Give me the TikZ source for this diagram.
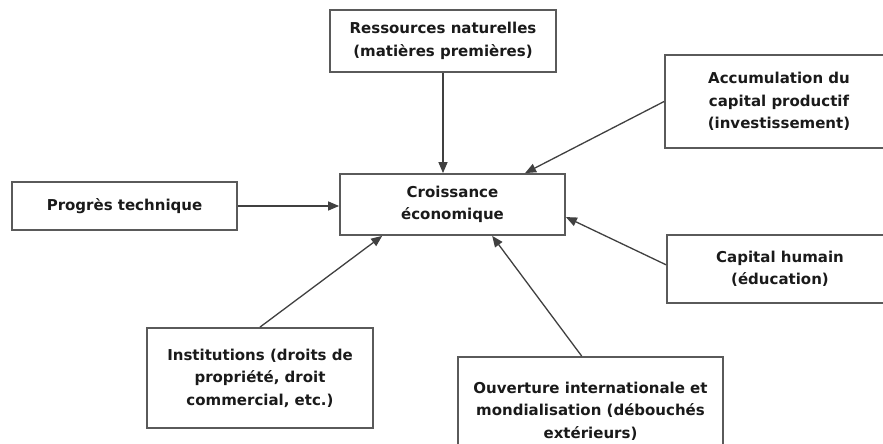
\documentclass[tikz,border=0pt]{standalone}
\usepackage{fontspec}
\setmainfont{DejaVu Sans}
\usetikzlibrary{arrows.meta,calc}
\definecolor{boxline}{HTML}{5A5A5A}
\definecolor{arrline}{HTML}{404040}
\definecolor{txt}{HTML}{1A1A1A}
\begin{document}
\begin{tikzpicture}[x=1pt,y=-1pt,
  box/.style={draw=boxline,line width=1.8pt,fill=white,rectangle,inner sep=0pt,
    align=center,text=txt,font=\bfseries\fontsize{15}{22.5}\selectfont},
  arr/.style={draw=arrline,line width=1.3pt,-{Triangle[length=11pt,width=9pt]}}]
\useasboundingbox (0,0) rectangle (883,444);
\fill[white] (0,0) rectangle (883,444);
\clip (0,0) rectangle (883,444);
\node[box,minimum width=226pt,minimum height=62pt] (res) at (443,41) {Ressources naturelles\\(matières premières)};
\node[box,minimum width=228pt,minimum height=93pt] (acc) at (779,101.5) {Accumulation du\\capital productif\\(investissement)};
\node[box,minimum width=225pt,minimum height=48pt] (prog) at (124.5,206) {Progrès technique};
\node[box,minimum width=225pt,minimum height=61pt] (cro) at (452.5,204.5) {Croissance\\économique};
\node[box,minimum width=226pt,minimum height=68pt] (cap) at (780,269) {Capital humain\\(éducation)};
\node[box,minimum width=226pt,minimum height=100pt] (inst) at (260,378) {Institutions (droits de\\propriété, droit\\commercial, etc.)};
\node[box,minimum width=265pt,minimum height=108pt] (ouv) at (590.5,411) {Ouverture internationale et\\mondialisation (débouchés\\extérieurs)};
\draw[arr] (res.south) -- (res.south |- cro.north);
\draw[arr] ($(acc.north west)!0.5!(acc.south west)$) -- ($(cro.north west)!0.82!(cro.north east)$);
\draw[arr] (prog.east) -- (prog.east -| cro.west);
\draw[arr] ($(cap.north west)!0.44!(cap.south west)$) -- ($(cro.north east)!0.7!(cro.south east)$);
\draw[arr] (inst.north) -- ($(cro.south west)!0.19!(cro.south east)$);
\draw[arr] ($(ouv.north west)!0.467!(ouv.north east)$) -- ($(cro.south west)!0.675!(cro.south east)$);
\end{tikzpicture}
\end{document}
